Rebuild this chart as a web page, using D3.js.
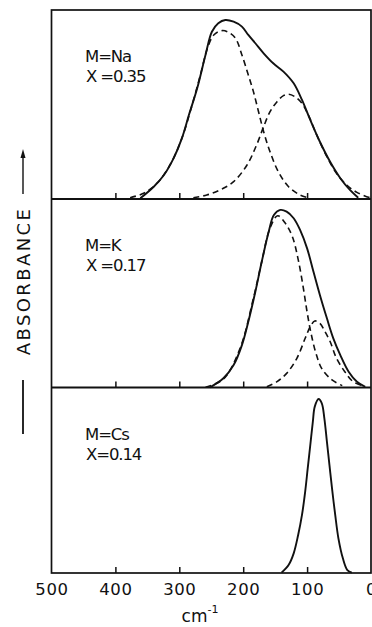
<!DOCTYPE html>
<html>
<head>
<meta charset="utf-8">
<script src="https://cdn.jsdelivr.net/npm/d3@7"></script>
<style>
  html, body { margin: 0; padding: 0; background: #fff; }
  svg { display: block; }
  text { font-family: "DejaVu Sans", sans-serif; fill: #111; }
</style>
</head>
<body>
<figure id="spectra" style="margin:0"></figure>
<script>
// wavenumber axis (cm-1), reversed
const wavenumberTicks = [500, 400, 300, 200, 100, 0];
const innerTicks = [400, 300, 200, 100];

const metalLabels = ["M=Na", "M=K", "M=Cs"];
const fractionLabels = ["X =0.35", "X =0.17", "X=0.14"];

// [wavenumber, absorbance (panel-relative)]
const naTotal = [
  [361, 0.004], [340, 0.065], [324, 0.127], [309, 0.215], [296, 0.321], [285, 0.444],
  [272, 0.586], [259, 0.762], [249, 0.885], [239, 0.930], [228, 0.947], [215, 0.938],
  [202, 0.912], [192, 0.868], [181, 0.824], [168, 0.771], [153, 0.718], [137, 0.674],
  [121, 0.612], [108, 0.524], [95, 0.418], [80, 0.303], [64, 0.197], [48, 0.110],
  [33, 0.048], [20, 0.007]
];
const naBand1 = [
  [377, 0.007], [356, 0.030], [335, 0.083], [314, 0.184], [296, 0.321], [280, 0.497],
  [267, 0.656], [256, 0.797], [246, 0.868], [233, 0.891], [223, 0.882], [212, 0.850],
  [202, 0.762], [192, 0.656], [184, 0.568], [176, 0.462], [168, 0.356], [158, 0.250],
  [145, 0.144], [129, 0.065], [111, 0.021], [95, 0.004]
];
const naBand2 = [
  [278, 0.007], [257, 0.021], [236, 0.048], [215, 0.092], [194, 0.180], [179, 0.286],
  [168, 0.383], [158, 0.462], [147, 0.515], [137, 0.547], [129, 0.554], [119, 0.541],
  [108, 0.506], [98, 0.444], [85, 0.339], [69, 0.224], [54, 0.136], [38, 0.074],
  [22, 0.035], [2, 0.007]
];

const kTotal = [
  [252, 0.001], [231, 0.049], [215, 0.119], [202, 0.225], [192, 0.349], [181, 0.508],
  [171, 0.667], [160, 0.827], [152, 0.915], [142, 0.942], [132, 0.933], [121, 0.898],
  [111, 0.836], [100, 0.738], [90, 0.614], [80, 0.491], [69, 0.367], [59, 0.261],
  [48, 0.172], [35, 0.084], [22, 0.031], [9, 0.004]
];
const kBand1 = [
  [259, 0.001], [231, 0.045], [205, 0.207], [184, 0.473], [171, 0.667], [158, 0.846],
  [146, 0.911], [134, 0.871], [123, 0.800], [114, 0.680], [106, 0.530], [100, 0.400],
  [94, 0.290], [86, 0.180], [77, 0.100], [61, 0.040], [45, 0.010]
];
const kBand2 = [
  [163, 0.004], [147, 0.031], [132, 0.075], [116, 0.155], [103, 0.261], [95, 0.323],
  [88, 0.353], [80, 0.340], [72, 0.296], [64, 0.244], [54, 0.155], [41, 0.084],
  [28, 0.031], [12, 0.009]
];

const csTotal = [
  [140, 0.002], [129, 0.043], [121, 0.106], [114, 0.205], [108, 0.313], [103, 0.439],
  [99, 0.565], [95, 0.690], [91, 0.816], [88, 0.897], [82, 0.938], [77, 0.915],
  [73, 0.834], [69, 0.708], [65, 0.582], [61, 0.456], [56, 0.313], [51, 0.187],
  [44, 0.079], [37, 0.016], [30, 0.002]
];

const panels = [
  { metal: metalLabels[0], frac: fractionLabels[0], total: naTotal, bands: [naBand1, naBand2] },
  { metal: metalLabels[1], frac: fractionLabels[1], total: kTotal, bands: [kBand1, kBand2] },
  { metal: metalLabels[2], frac: fractionLabels[2], total: csTotal, bands: [] }
];

const width = 372, height = 627;
const left = 51.5, right = 371;
const panelEdges = [10, 199, 387.5, 573];

const svg = d3.select("figure#spectra")
  .append("svg")
  .attr("width", width)
  .attr("height", height);

const x = d3.scaleLinear().domain([500, 0]).range([left, right]);

panels.forEach((p, i) => {
  const top = panelEdges[i], bottom = panelEdges[i + 1];
  const y = d3.scaleLinear().domain([0, 1]).range([bottom, top]);
  const g = svg.append("g");

  // inner ticks on the bottom edge
  g.append("g")
    .attr("transform", "translate(0," + bottom + ")")
    .call(d3.axisBottom(x).tickValues(innerTicks).tickSize(-6).tickFormat(""))
    .call(s => s.select(".domain").remove())
    .selectAll("line")
    .attr("stroke", "#111")
    .attr("stroke-width", 1.5);

  const line = d3.line()
    .x(d => x(d[0]))
    .y(d => y(d[1]))
    .curve(d3.curveCatmullRom.alpha(0.5));

  p.bands.forEach(b => {
    g.append("path")
      .attr("d", line(b))
      .attr("fill", "none")
      .attr("stroke", "#111")
      .attr("stroke-width", 1.6)
      .attr("stroke-dasharray", "6,4");
  });

  g.append("path")
    .attr("d", line(p.total))
    .attr("fill", "none")
    .attr("stroke", "#111")
    .attr("stroke-width", 1.9);

  g.append("text")
    .attr("x", 85)
    .attr("y", top + 52)
    .attr("font-size", 16.5)
    .attr("letter-spacing", -1.1)
    .text(p.metal);

  g.append("text")
    .attr("x", 86)
    .attr("y", top + 72)
    .attr("font-size", 16.5)
    .attr("letter-spacing", -1.1)
    .text(p.frac);
});

// frame and panel dividers
svg.append("rect")
  .attr("x", left)
  .attr("y", panelEdges[0])
  .attr("width", right - left)
  .attr("height", panelEdges[3] - panelEdges[0])
  .attr("fill", "none")
  .attr("stroke", "#111")
  .attr("stroke-width", 1.7);

svg.selectAll("line.divider")
  .data(panelEdges.slice(1, 3))
  .enter()
  .append("line")
  .attr("class", "divider")
  .attr("x1", left)
  .attr("x2", right)
  .attr("y1", d => d)
  .attr("y2", d => d)
  .attr("stroke", "#111")
  .attr("stroke-width", 2);

// wavenumber labels
svg.append("g")
  .attr("transform", "translate(0," + panelEdges[3] + ")")
  .call(d3.axisBottom(x).tickValues(wavenumberTicks).tickSize(0).tickPadding(0))
  .call(s => s.select(".domain").remove())
  .selectAll("text")
  .attr("y", 22)
  .attr("dy", 0)
  .attr("font-size", 16.5)
  .attr("letter-spacing", 0.6)
  .attr("font-family", "DejaVu Sans")
  .attr("fill", "#111");

const unit = svg.append("text")
  .attr("x", 200)
  .attr("y", 622)
  .attr("text-anchor", "middle")
  .attr("font-size", 17);
unit.append("tspan").text("cm");
unit.append("tspan").attr("dy", -9).attr("font-size", 11).text("-1");

// absorbance label with arrow and scale bar
svg.append("text")
  .attr("transform", "translate(30,281) rotate(-90)")
  .attr("text-anchor", "middle")
  .attr("font-size", 18)
  .attr("letter-spacing", 2.4)
  .text("ABSORBANCE");

svg.append("line")
  .attr("x1", 23).attr("x2", 23)
  .attr("y1", 155).attr("y2", 194)
  .attr("stroke", "#111").attr("stroke-width", 1.4);
svg.append("path")
  .attr("d", "M23,149 L20.5,158 L25.5,158 Z")
  .attr("fill", "#111");

svg.append("line")
  .attr("x1", 23).attr("x2", 23)
  .attr("y1", 380).attr("y2", 434)
  .attr("stroke", "#111").attr("stroke-width", 1.8);
</script>
</body>
</html>
